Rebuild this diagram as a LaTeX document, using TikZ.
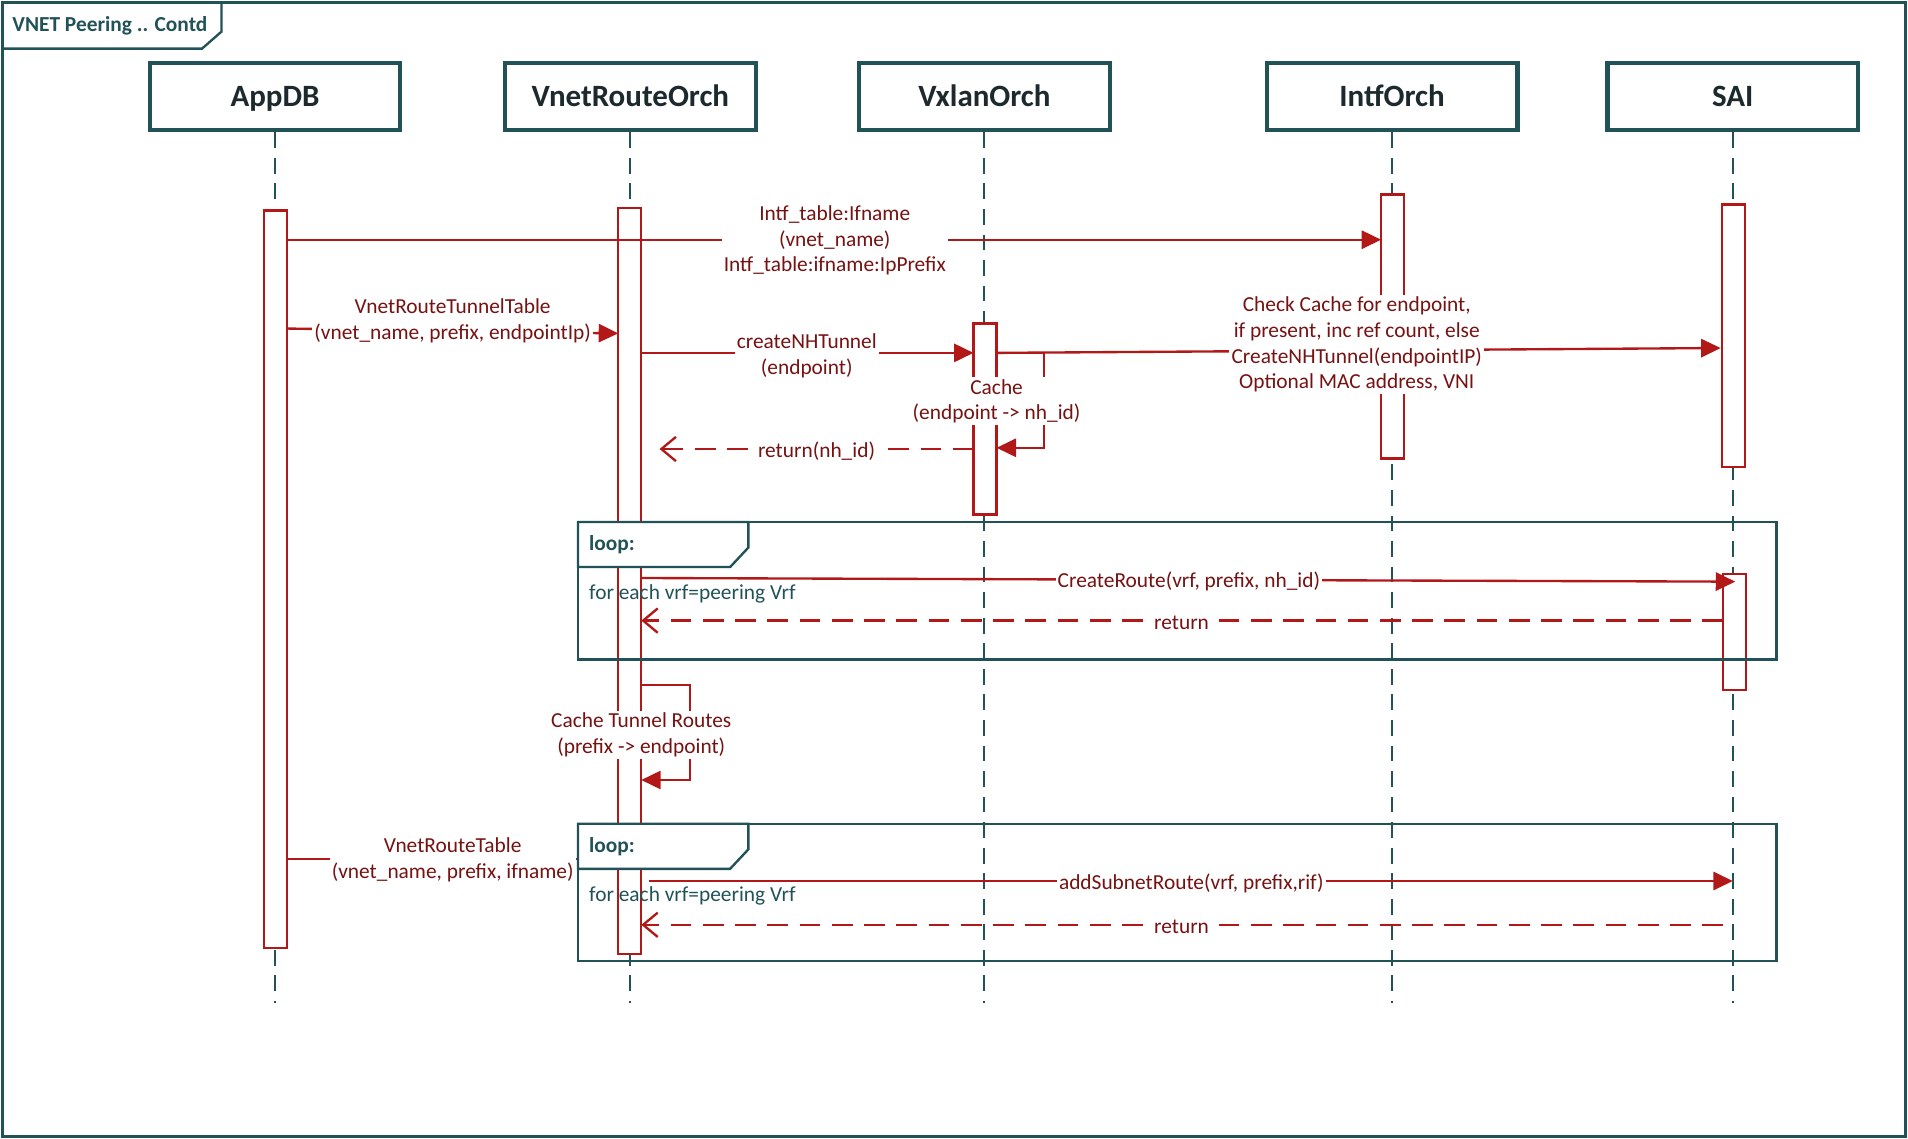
\documentclass[tikz,border=0pt]{standalone}
\usepackage{fontspec}
\setmainfont{Carlito}
\usetikzlibrary{arrows.meta,positioning}
\definecolor{frameteal}{RGB}{33,82,88}
\definecolor{headtext}{RGB}{28,42,46}
\definecolor{msgred}{RGB}{178,24,24}
\definecolor{msgtext}{RGB}{118,18,18}

\begin{document}
\begin{tikzpicture}[x=0.02cm, y=-0.02cm,
    every node/.style={font=\fontsize{10}{12}\selectfont},
    head/.style={draw=frameteal, line width=2pt, minimum width=4.12cm, minimum height=1.1cm,
        text height=0.94em, text depth=0pt,
        font=\fontsize{14.5}{16}\selectfont\bfseries, text=headtext},
    lifeline/.style={draw=frameteal, line width=0.9pt, dash pattern=on 0.26cm off 0.16cm},
    actbar/.style={draw=msgred, fill=white, line width=1.1pt, minimum width=0.38cm, inner sep=0pt, anchor=north},
    msg/.style={draw=msgred, line width=1.1pt, -{Triangle[length=0.32cm,width=0.3cm]}},
    ret/.style={draw=msgred, line width=1.1pt, dash pattern=on 0.34cm off 0.19cm,
        -{Straight Barb[length=0.24cm,width=0.4cm]}},
    lbl/.style={fill=white, text=msgtext, align=center, inner sep=1pt, yshift=-1pt},
    frameline/.style={draw=frameteal, line width=1.1pt},
    looptag/.style={anchor=west, text=frameteal, font=\fontsize{10}{12}\selectfont\bfseries},
    loopnote/.style={anchor=west, text=frameteal}]
    \useasboundingbox (0,0) rectangle (1568,936);

    % outer frame
    \draw[frameline] (2,2) rectangle (1566,934);
    \draw[frameline] (2,40) -- (166,40) -- (182,26) -- (182,2);
    \node[looptag] (title) at (4,21) {VNET Peering .. Contd};

    % lifelines
    \foreach \n/\t/\x in {appdb/AppDB/226, vro/VnetRouteOrch/518, vxo/VxlanOrch/809,
                          ifo/IntfOrch/1144, sai/SAI/1424} {
        \node[head] (\n) at (\x,79.5) {\t};
        \coordinate (\n end) at (\x,824);
        \draw[lifeline] (\n.south) -- (\n end);
    }

    % activation bars
    \node[actbar, minimum height=12.12cm] (appbar) at (226.5,172) {};
    \node[actbar, minimum height=12.26cm] (vrobar) at (517.5,170) {};
    \node[actbar, minimum height=3.14cm] (vxobar) at (809.5,265) {};
    \node[actbar, minimum height=4.34cm] (ifobar) at (1144.5,159) {};
    \node[actbar, minimum height=4.32cm] (saibar) at (1424.5,167) {};
    \node[actbar, minimum height=1.9cm] (saibarb) at (1425.5,471) {};

    % message ends
    \coordinate (a1) at (236,197);   \coordinate (b1) at (1135,197);
    \coordinate (a2) at (236,270);   \coordinate (b2) at (508,274);
    \coordinate (a3) at (527,290);   \coordinate (b3) at (800,290);
    \coordinate (a4) at (819,290);   \coordinate (b4) at (1414,286);
    \coordinate (c1) at (858,368);   \coordinate (c2) at (819,368);
    \coordinate (a5) at (800,369);   \coordinate (b5) at (542,369);
    \coordinate (a6) at (527,475);   \coordinate (b6) at (1426,478);
    \coordinate (a7) at (1416,510);  \coordinate (b7) at (527,510);
    \coordinate (c3) at (567,641);   \coordinate (c4) at (527,641);
    \coordinate (a8) at (236,706);   \coordinate (b8) at (508,706);
    \coordinate (a9) at (533,724);   \coordinate (b9) at (1424,724);
    \coordinate (a10) at (1416,760); \coordinate (b10) at (527,760);
    \coordinate (c5) at (527,563);

    \draw[msg] (a1) -- (b1);
    \draw[msg] (a2) -- (b2);
    \draw[msg] (a3) -- (b3);
    \draw[msg] (a4) -- (b4);
    \draw[msg] (a4) -| (c1) -- (c2);
    \draw[ret] (a5) -- (b5);
    \draw[msg] (a6) -- (b6);
    \draw[ret] (a7) -- (b7);
    \draw[msg] (c5) -| (c3) -- (c4);
    \draw[msg] (a8) -- (b8);
    \draw[msg] (a9) -- (b9);
    \draw[ret] (a10) -- (b10);

    % labels
    \node[lbl] (l1) at (686,196) {Intf\_table:Ifname\\(vnet\_name)\\Intf\_table:ifname:IpPrefix};
    \node[lbl] (l2) at (372,262) {VnetRouteTunnelTable\\(vnet\_name, prefix, endpointIp)};
    \node[lbl] (l3) at (663,290.5) {createNHTunnel\\(endpoint)};
    \node[lbl] (l4) at (1115,281.5) {Check Cache for endpoint,\\if present, inc ref count, else\\CreateNHTunnel(endpointIP)\\Optional MAC address, VNI};
    \node[lbl] (l5) at (819,328) {Cache\\(endpoint -> nh\_id)};
    \node[lbl] (l6) at (671,369) {return(nh\_id)};
    \node[lbl] (l7) at (977,476) {CreateRoute(vrf, prefix, nh\_id)};
    \node[lbl] (l8) at (971,510) {return};
    \node[lbl] (l9) at (527,602) {Cache Tunnel Routes\\(prefix -> endpoint)};
    \node[lbl] (l10) at (372,705) {VnetRouteTable\\(vnet\_name, prefix, ifname)};
    \node[lbl] (l11) at (979,724) {addSubnetRoute(vrf, prefix,rif)};
    \node[lbl] (l12) at (971,760) {return};

    % loop frames
    \foreach \y in {429,677} {
        \draw[frameline] (475,\y) rectangle (1460,\y+113);
        \draw[frameline, fill=white] (475,\y) -- (615,\y) -- (615,\y+21) -- (600,\y+37) -- (475,\y+37) -- cycle;
        \node[looptag] at (478,\y+19) {loop:};
        \node[loopnote] at (478,\y+59) {for each vrf=peering Vrf};
    }
\end{tikzpicture}
\end{document}
